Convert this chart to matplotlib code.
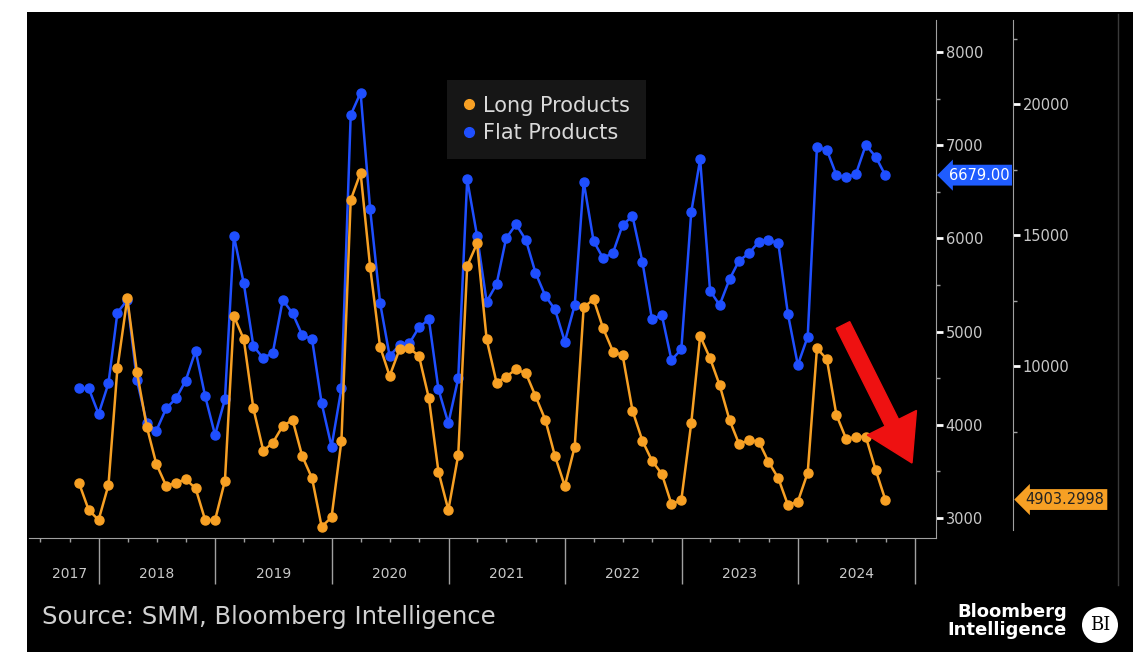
import matplotlib.pyplot as plt
import matplotlib.dates as mdates
import numpy as np
import pandas as pd
from matplotlib.lines import Line2D
from matplotlib.patches import Rectangle, Circle, FancyArrow
from datetime import date

# monthly data, month ends Oct 2017 .. Sep 2024
months = pd.date_range('2017-10-31', periods=84, freq='ME')

flat_products = [4392, 4392, 4116, 4445, 5203, 5339, 4481, 4019, 3937, 4177, 4284, 4473,
                 4795, 4306, 3891, 4274, 6026, 5518, 4846, 4714, 4774, 5339, 5196, 4964,
                 4917, 4231, 3765, 4392, 7324, 7564, 6312, 5310, 4738, 4856, 4875, 5046,
                 5132, 4381, 4016, 4499, 6634, 6026, 5321, 5508, 6001, 6151, 5983, 5632,
                 5382, 5239, 4892, 5285, 6609, 5972, 5787, 5847, 6144, 6240, 5750, 5132,
                 5178, 4695, 4810, 6280, 6849, 5439, 5285, 5561, 5761, 5840, 5965, 5983,
                 5948, 5189, 4642, 4945, 6984, 6949, 6680, 6656, 6691, 7002, 6877, 6679]

long_products = [5523, 4504, 4122, 5458, 9912, 12584, 9782, 7683, 6259, 5420, 5546, 5675,
                 5332, 4122, 4122, 5622, 11909, 11019, 8385, 6767, 7072, 7710, 7939, 6565,
                 5713, 3866, 4225, 7149, 16336, 17378, 13767, 10737, 9618, 10637, 10676, 10382,
                 8767, 5965, 4504, 6603, 13817, 14683, 11019, 9363, 9592, 9874, 9721, 8855,
                 7939, 6565, 5420, 6920, 12241, 12546, 11439, 10546, 10420, 8294, 7149, 6385,
                 5878, 4733, 4885, 7813, 11145, 10294, 9275, 7939, 7023, 7175, 7111, 6347,
                 5713, 4694, 4820, 5927, 10676, 10256, 8130, 7202, 7301, 7301, 6030, 4903.2998]

years = [2018, 2019, 2020, 2021, 2022, 2023, 2024]
flat_ticks = [3000, 4000, 5000, 6000, 7000, 8000]
long_ticks = [10000, 15000, 20000]

ORANGE = '#f7a024'
BLUE = '#1f4fff'
GREY = '#c8c8c8'
LINE = '#a0a0a0'

W, H = 1148, 661
fig = plt.figure(figsize=(W / 100, H / 100), dpi=100, facecolor='white')

# black panel
fig.patches.append(Rectangle((27 / W, 1 - 652 / H), (1133 - 27) / W, (652 - 12) / H,
                             transform=fig.transFigure, facecolor='black',
                             edgecolor='none', zorder=-10))
fig.lines.append(Line2D([1118 / W, 1118 / W], [1 - 14 / H, 1 - 585 / H],
                        transform=fig.transFigure, color='#3a3a3a', lw=1, zorder=-5))

left, right, top, bottom = 29, 936, 20, 538
ax = fig.add_axes([left / W, 1 - bottom / H, (right - left) / W, (bottom - top) / H])
ax.set_facecolor('none')
ax2 = ax.twinx()
ax2.set_facecolor('none')

ax.plot(months, flat_products, color=BLUE, lw=1.8, marker='o', ms=6.5, mec=BLUE, zorder=3)
ax2.plot(months, long_products, color=ORANGE, lw=1.8, marker='o', ms=6.5, mec=ORANGE, zorder=3)

ax.set_xlim(date(2017, 5, 27), date(2025, 3, 8))
ax.set_ylim(2785, 8344)
ax2.set_ylim(3435, 23207)

# spines
for s in ['left', 'top']:
    ax.spines[s].set_visible(False)
    ax2.spines[s].set_visible(False)
ax2.spines['bottom'].set_visible(False)
ax.spines['bottom'].set_color(LINE)

# inner axis (flat) on the right edge of the plot
ax.yaxis.tick_right()
ax.spines['right'].set_visible(True)
ax.spines['right'].set_color(LINE)
ax.set_yticks(flat_ticks)
ax.set_yticks(np.arange(3500, 8000, 1000), minor=True)
ax.tick_params(axis='y', which='major', colors='white', labelcolor=GREY, length=5,
               width=2, pad=2, labelsize=10.5, direction='out')
ax.tick_params(axis='y', which='minor', colors=LINE, length=3, width=1, direction='out')

# outer axis (long)
outer = 1 + 77 / (right - left)
ax2.spines['right'].set_visible(True)
ax2.spines['right'].set_color(LINE)
ax2.spines['right'].set_position(('axes', outer))
ax2.spines['right'].set_bounds(3740, 23207)
ax2.set_yticks(long_ticks)
ax2.set_yticks([7500, 12500, 17500, 22500], minor=True)
ax2.tick_params(axis='y', which='major', colors='white', labelcolor=GREY, length=5,
                width=2, pad=2, labelsize=10.5, direction='out')
ax2.tick_params(axis='y', which='minor', colors=LINE, length=3, width=1, direction='out')

# x axis: year dividers + quarterly ticks
ax.xaxis.set_major_locator(mdates.YearLocator())
ax.xaxis.set_minor_locator(mdates.MonthLocator(bymonth=[4, 7, 10]))
ax.tick_params(axis='x', which='major', colors=LINE, length=33, width=1,
               labelbottom=False, direction='out')
ax.tick_params(axis='x', which='minor', colors=LINE, length=3, width=1, direction='out')

for y in years:
    ax.annotate(str(y), xy=(date(y, 7, 1), 0), xycoords=('data', 'axes fraction'),
                xytext=(0, -26), textcoords='offset points', ha='center', va='center',
                color=GREY, fontsize=10)
ax.annotate('2017', xy=(date(2017, 10, 1), 0), xycoords=('data', 'axes fraction'),
            xytext=(0, -26), textcoords='offset points', ha='center', va='center',
            color=GREY, fontsize=10)

# last value tags
ax.annotate('6679.00', xy=(1, flat_products[-1]), xycoords=('axes fraction', 'data'),
            xytext=(9, 0), textcoords='offset points', ha='left', va='center',
            color='white', fontsize=10.5, annotation_clip=False,
            bbox=dict(boxstyle='larrow,pad=0.2', fc='#1f5cff', ec='none'))
ax2.annotate('4903.2998', xy=(outer, long_products[-1]),
             xycoords=('axes fraction', 'data'), xytext=(9, 0), textcoords='offset points',
             ha='left', va='center', color='#222222', fontsize=10.5, annotation_clip=False,
             bbox=dict(boxstyle='larrow,pad=0.2', fc=ORANGE, ec='none'))

# legend
handles = [Line2D([], [], ls='none', marker='o', ms=7, color=ORANGE),
           Line2D([], [], ls='none', marker='o', ms=7, color=BLUE)]
leg = fig.legend(handles, ['Long Products', 'Flat Products'], loc='upper left',
                 bbox_to_anchor=(447 / W, 1 - 80 / H), bbox_transform=fig.transFigure,
                 borderaxespad=0, frameon=True, fancybox=False, facecolor='#161616',
                 edgecolor='none', framealpha=1, fontsize=15, handlelength=0.6,
                 handletextpad=0.4, labelspacing=0.35, borderpad=0.75)
for t in leg.get_texts():
    t.set_color('#d9d9d9')

# red arrow
arrow = FancyArrow(843 / 100, (H - 325) / 100, (912 - 843) / 100, -(463 - 325) / 100,
                   width=0.15, head_width=0.55, head_length=0.45, length_includes_head=True,
                   transform=fig.dpi_scale_trans, color='#ee1111', zorder=5)
fig.patches.append(arrow)

# footer
fig.text(42 / W, 1 - 617 / H, 'Source: SMM, Bloomberg Intelligence', color='#d0d0d0',
         fontsize=17.5, va='center', ha='left')
fig.text(1067 / W, 1 - 621 / H, 'Bloomberg\nIntelligence', color='white', fontsize=13,
         fontweight='bold', va='center', ha='right', linespacing=1.05)
fig.patches.append(Circle((1100 / 100, (H - 625) / 100), 0.18, transform=fig.dpi_scale_trans,
                          facecolor='white', edgecolor='none'))
fig.text(1100 / W, 1 - 625 / H, 'BI', color='black', fontsize=13, family='DejaVu Serif',
         ha='center', va='center')

fig.savefig('out.png', dpi=100, facecolor='white')
